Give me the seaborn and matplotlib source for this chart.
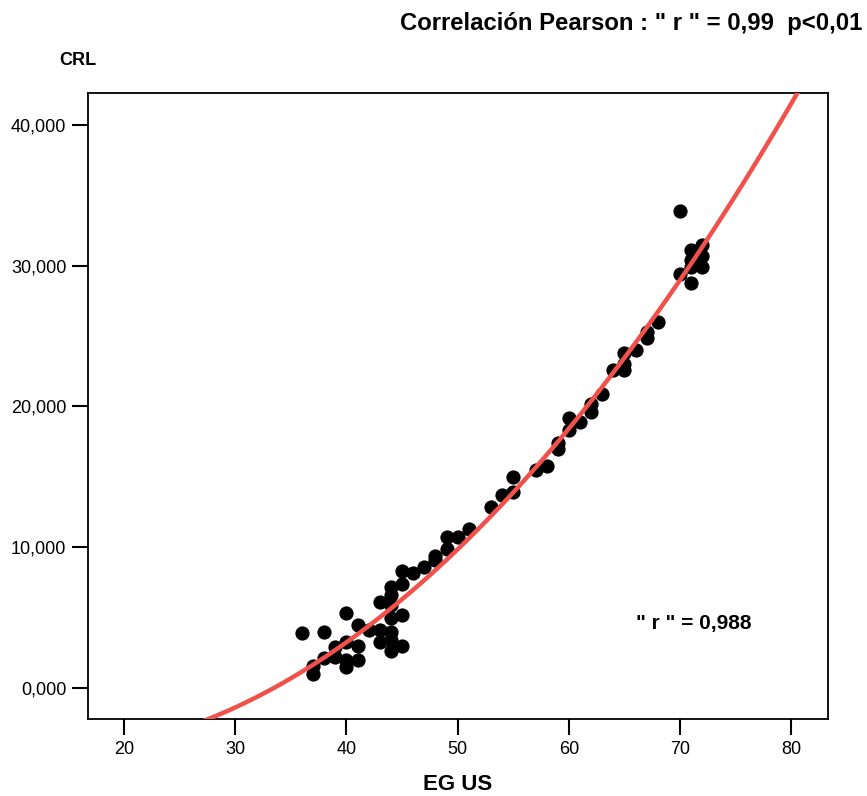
import numpy as np
import pandas as pd
import matplotlib
matplotlib.use("Agg")
import matplotlib.pyplot as plt
import seaborn as sns

# Gestational age by ultrasound (days) and crown-rump length (mm)
eg_us = [36, 37, 37, 38, 38, 39, 39, 40, 40, 40, 40,
         41, 41, 41, 42, 43, 43, 43,
         44, 44, 44, 44, 44, 44, 44,
         45, 45, 45, 45, 46, 47, 48, 48, 49, 49, 50, 51,
         53, 54, 55, 55, 57, 58, 59, 59, 60, 60, 61, 62, 62, 63,
         64, 65, 65, 65, 66, 67, 67, 68,
         70, 70, 71, 71, 71, 71, 72, 72, 72]
crl = [3.9, 1.6, 1.0, 4.0, 2.1, 2.9, 2.2, 5.3, 3.3, 2.0, 1.5,
       4.5, 3.0, 2.0, 4.1, 6.1, 4.1, 3.3,
       7.2, 6.6, 5.9, 5.0, 4.0, 3.4, 2.65,
       8.3, 7.4, 5.2, 3.0, 8.2, 8.6, 9.4, 9.1, 10.7, 9.9, 10.75, 11.3,
       12.85, 13.7, 15.0, 13.95, 15.5, 15.8, 17.4, 17.0, 19.2, 18.3, 18.9, 20.2, 19.6, 20.9,
       22.6, 23.8, 23.0, 22.6, 24.0, 25.3, 24.9, 26.0,
       33.9, 29.4, 31.1, 30.4, 29.9, 28.8, 31.5, 30.7, 29.9]

x_ticks = [20, 30, 40, 50, 60, 70, 80]
y_ticks = [0, 10, 20, 30, 40]
y_tick_labels = ["0,000", "10,000", "20,000", "30,000", "40,000"]

title_text = 'Correlación Pearson : " r " = 0,99  p<0,01'
r_text = '" r " = 0,988'

df = pd.DataFrame({"EG US": eg_us, "CRL": crl})

sns.set_theme(style="white")
plt.rcParams["font.family"] = ["Liberation Sans", "DejaVu Sans"]
plt.rcParams["text.color"] = "black"
plt.rcParams["axes.labelcolor"] = "black"

fig = plt.figure(figsize=(8.67, 7.96), dpi=100)
ax = fig.add_axes([88 / 867, 1 - 719 / 796, (828 - 88) / 867, (719 - 93) / 796])
ax.set_xlim(16.76, 83.3)
ax.set_ylim(-2.2, 42.27)

sns.regplot(data=df, x="EG US", y="CRL", order=2, ci=None, truncate=False, ax=ax,
            scatter_kws=dict(s=105, color="black", linewidths=0, alpha=1, zorder=2),
            line_kws=dict(color="#F2514B", lw=3.2, zorder=3, solid_capstyle="butt"))

ax.set_xlim(16.76, 83.3)
ax.set_ylim(-2.2, 42.27)
ax.set_xticks(x_ticks)
ax.set_yticks(y_ticks)
ax.set_yticklabels(y_tick_labels)
ax.tick_params(axis="both", direction="out", length=11.5, width=1.5, color="black",
               labelsize=13, labelcolor="black", pad=4, bottom=True, left=True)
for sp in ax.spines.values():
    sp.set_color("black")
    sp.set_linewidth(1.3)

ax.set_xlabel("EG US", fontsize=16, fontweight="bold", color="black", labelpad=12)
ax.set_ylabel("")

fig.text(0.995, 0.971, title_text, ha="right", va="center", fontsize=17.2,
         fontweight="bold", color="black")
fig.text(0.068, 0.924, "CRL", ha="left", va="center", fontsize=13,
         fontweight="bold", color="black")
fig.text(0.734, 0.217, r_text, ha="left", va="center",
        fontsize=15, fontweight="bold", color="black")

fig.savefig("out.png", dpi=100, facecolor="white")
